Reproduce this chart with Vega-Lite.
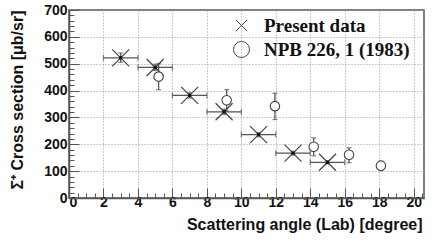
{
  "$schema": "https://vega.github.io/schema/vega-lite/v6.json",
  "width": 355,
  "height": 188,
  "autosize": "none",
  "padding": {"left": 69, "top": 10, "right": 17, "bottom": 44},
  "background": "white",
  "config": {
    "view": {"stroke": "#555", "strokeWidth": 1.5},
    "font": "Liberation Sans",
    "axis": {
      "domainColor": "#555",
      "domainWidth": 1.5,
      "tickColor": "#555",
      "labelFont": "Liberation Sans",
      "labelFontWeight": "bold",
      "labelFontSize": 14,
      "labelColor": "#111",
      "titleFont": "Liberation Sans",
      "titleFontWeight": "bold",
      "titleColor": "#111",
      "gridColor": "#999",
      "gridDash": [1, 2],
      "gridWidth": 1
    },
    "legend": {
      "orient": "none",
      "legendX": 163,
      "legendY": 6,
      "labelFont": "Liberation Serif",
      "labelFontWeight": "bold",
      "labelFontSize": 19,
      "labelColor": "#111",
      "symbolSize": 256,
      "symbolStrokeColor": "#444",
      "symbolFillColor": "white",
      "symbolStrokeWidth": 1,
      "labelOffset": 13,
      "rowPadding": 3,
      "title": null
    }
  },
  "data": {
    "values": [
      {"set": "Present data", "x": 3, "xlo": 2, "xhi": 4, "y": 522, "ylo": 505, "yhi": 540},
      {"set": "Present data", "x": 5, "xlo": 4, "xhi": 6, "y": 486, "ylo": 475, "yhi": 498},
      {"set": "Present data", "x": 7, "xlo": 6, "xhi": 8, "y": 382, "ylo": 372, "yhi": 392},
      {"set": "Present data", "x": 9, "xlo": 8, "xhi": 10, "y": 321, "ylo": 311, "yhi": 331},
      {"set": "Present data", "x": 11, "xlo": 10, "xhi": 12, "y": 236, "ylo": 228, "yhi": 244},
      {"set": "Present data", "x": 13, "xlo": 12, "xhi": 14, "y": 167, "ylo": 160, "yhi": 174},
      {"set": "Present data", "x": 15, "xlo": 14, "xhi": 16, "y": 133, "ylo": 127, "yhi": 139},
      {"set": "NPB 226, 1 (1983)", "x": 5.2, "y": 452, "ylo": 403, "yhi": 500},
      {"set": "NPB 226, 1 (1983)", "x": 9.15, "y": 364, "ylo": 324, "yhi": 404},
      {"set": "NPB 226, 1 (1983)", "x": 11.95, "y": 342, "ylo": 292, "yhi": 390},
      {"set": "NPB 226, 1 (1983)", "x": 14.2, "y": 191, "ylo": 157, "yhi": 224},
      {"set": "NPB 226, 1 (1983)", "x": 16.25, "y": 161, "ylo": 131, "yhi": 187},
      {"set": "NPB 226, 1 (1983)", "x": 18.1, "y": 120, "ylo": 102, "yhi": 138}
    ]
  },
  "resolve": {"axis": {"x": "independent", "y": "independent"}},
  "layer": [
    {
      "transform": [{"filter": "datum.set === 'Present data'"}],
      "mark": {"type": "rule", "color": "#555", "strokeWidth": 1.3},
      "encoding": {
        "x": {
          "field": "xlo", "type": "quantitative",
          "scale": {"domain": [0, 20.6], "nice": false, "zero": false},
          "axis": {
            "orient": "bottom",
            "values": [0, 2, 4, 6, 8, 10, 12, 14, 16, 18, 20],
            "tickSize": -10,
            "labelPadding": 7,
            "grid": true,
            "title": "Scattering angle (Lab) [degree]",
            "titleFontSize": 16,
            "titleAlign": "right",
            "titleAnchor": "end",
            "titleX": 353,
            "titleY": 31,
            "titleBaseline": "alphabetic"
          }
        },
        "x2": {"field": "xhi"},
        "y": {
          "field": "y", "type": "quantitative",
          "scale": {"domain": [0, 700], "nice": false},
          "axis": {
            "orient": "left",
            "values": [0, 100, 200, 300, 400, 500, 600, 700],
            "tickSize": -10,
            "labelPadding": 12,
            "grid": true,
            "title": "Σ⁺ Cross section [μb/sr]",
            "titleFontSize": 16,
            "titleAngle": 270,
            "titleAlign": "right",
            "titleAnchor": "end",
            "titleX": -44,
            "titleY": 0,
            "titleBaseline": "bottom"
          }
        }
      }
    },
    {
      "mark": {"type": "rule", "color": "#555", "strokeWidth": 1.3},
      "encoding": {
        "x": {
          "field": "x", "type": "quantitative",
          "axis": {
            "orient": "bottom",
            "values": [0.5, 1, 1.5, 2.5, 3, 3.5, 4.5, 5, 5.5, 6.5, 7, 7.5, 8.5, 9, 9.5, 10.5, 11, 11.5, 12.5, 13, 13.5, 14.5, 15, 15.5, 16.5, 17, 17.5, 18.5, 19, 19.5, 20.5],
            "tickSize": -5,
            "labels": false,
            "grid": false,
            "domain": false,
            "title": null
          }
        },
        "y": {
          "field": "ylo", "type": "quantitative",
          "axis": {
            "orient": "left",
            "values": [20, 40, 60, 80, 120, 140, 160, 180, 220, 240, 260, 280, 320, 340, 360, 380, 420, 440, 460, 480, 520, 540, 560, 580, 620, 640, 660, 680],
            "tickSize": -5,
            "labels": false,
            "grid": false,
            "domain": false,
            "title": null
          }
        },
        "y2": {"field": "yhi"}
      }
    },
    {
      "transform": [{"filter": "datum.set === 'Present data'"}],
      "mark": {"type": "tick", "orient": "vertical", "color": "#555", "size": 6, "thickness": 1.3},
      "encoding": {
        "x": {"field": "xlo", "type": "quantitative", "axis": null},
        "y": {"field": "y", "type": "quantitative", "axis": null}
      }
    },
    {
      "transform": [{"filter": "datum.set === 'Present data'"}],
      "mark": {"type": "tick", "orient": "vertical", "color": "#555", "size": 6, "thickness": 1.3},
      "encoding": {
        "x": {"field": "xhi", "type": "quantitative", "axis": null},
        "y": {"field": "y", "type": "quantitative", "axis": null}
      }
    },
    {
      "mark": {"type": "tick", "orient": "horizontal", "color": "#555", "size": 5, "thickness": 1.2},
      "encoding": {
        "x": {"field": "x", "type": "quantitative", "axis": null},
        "y": {"field": "ylo", "type": "quantitative", "axis": null}
      }
    },
    {
      "mark": {"type": "tick", "orient": "horizontal", "color": "#555", "size": 5, "thickness": 1.2},
      "encoding": {
        "x": {"field": "x", "type": "quantitative", "axis": null},
        "y": {"field": "yhi", "type": "quantitative", "axis": null}
      }
    },
    {
      "transform": [{"filter": "datum.set === 'Present data'"}],
      "mark": {"type": "point", "filled": false, "size": 590, "stroke": "#444", "strokeWidth": 1.2, "opacity": 1},
      "encoding": {
        "x": {"field": "x", "type": "quantitative", "axis": null},
        "y": {"field": "y", "type": "quantitative", "axis": null},
        "shape": {
          "field": "set", "type": "nominal",
          "scale": {"domain": ["Present data", "NPB 226, 1 (1983)"], "range": ["M-0.7,-0.7L0.7,0.7M-0.7,0.7L0.7,-0.7", "circle"]},
          "legend": {"title": null}
        }
      }
    },
    {
      "transform": [{"filter": "datum.set === 'Present data'"}],
      "mark": {"type": "point", "filled": true, "shape": "square", "size": 10, "color": "#111", "opacity": 1},
      "encoding": {
        "x": {"field": "x", "type": "quantitative", "axis": null},
        "y": {"field": "y", "type": "quantitative", "axis": null}
      }
    },
    {
      "transform": [{"filter": "datum.set !== 'Present data'"}],
      "mark": {"type": "point", "filled": false, "fill": "white", "fillOpacity": 1, "size": 90, "stroke": "#444", "strokeWidth": 1.1, "opacity": 1},
      "encoding": {
        "x": {"field": "x", "type": "quantitative", "axis": null},
        "y": {"field": "y", "type": "quantitative", "axis": null},
        "shape": {"field": "set", "type": "nominal"}
      }
    }
  ]
}
